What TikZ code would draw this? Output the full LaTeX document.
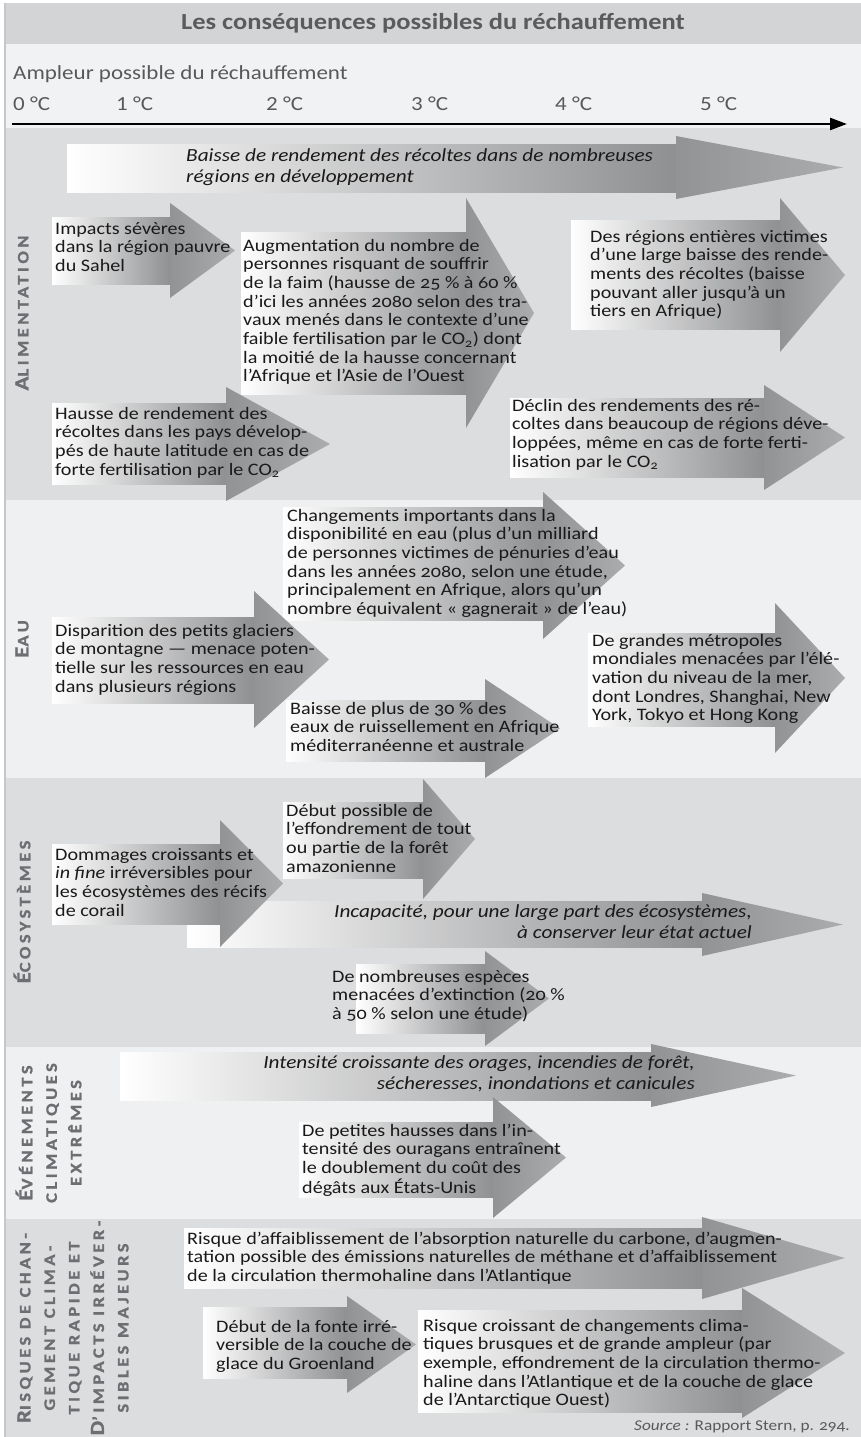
\documentclass[tikz,border=0pt]{standalone}
\usepackage{fontspec}
\setmainfont{Carlito}[Numbers=OldStyle,FakeStretch=1.15]
\newfontfamily\linfont{Carlito}[FakeStretch=1.15]
\newfontfamily\lblfont{Carlito}[LetterSpace=22,FakeStretch=1.15,FakeBold=1.2]
\usetikzlibrary{arrows.meta}
\definecolor{bandD}{HTML}{DCDDDF}
\definecolor{bandL}{HTML}{EFF0F2}
\definecolor{bandT}{HTML}{D3D4D6}
\definecolor{bandA}{HTML}{F1F2F4}
\definecolor{edgec}{HTML}{C6C7C9}
\definecolor{titc}{HTML}{5A5B5D}
\definecolor{axc}{HTML}{58595B}
\definecolor{lblc}{HTML}{6D6E71}
\definecolor{txtc}{HTML}{1A1A1A}
\definecolor{abody}{HTML}{8F9092}
\definecolor{ahA}{HTML}{929395}
\definecolor{ahB}{HTML}{ABACAE}
\newcommand\Ltab[1]{\begin{tabular}[t]{@{}l@{}}#1\end{tabular}}
\newcommand\Rtab[1]{\begin{tabular}[t]{@{}r@{}}#1\end{tabular}}
\newcommand\bigL[1]{{\fontsize{20}{24.5}\selectfont #1}}
% name, bodyLeft, bodyTop, bodyBottom, headBase, headTop, headBottom, tipX
\newcommand\garrow[8]{%
  \shade[left color=white,right color=abody] (#2,#3) rectangle (#5,#4);
  \shade[left color=ahA,right color=ahB] (#5,#6) -- (#8,{(#6+#7)/2}) -- (#5,#7) -- cycle;
  \coordinate (#1) at (#8,{(#6+#7)/2});}
\begin{document}
\begin{tikzpicture}[x=1pt,y=-1pt,
  txt/.style={anchor=base west,inner sep=0pt,text=txtc,font=\fontsize{17.5}{18.7}\selectfont},
  itx/.style={anchor=base west,inner sep=0pt,text=txtc,font=\fontsize{18.5}{21}\selectfont\itshape},
  itr/.style={itx,anchor=base east},
  lbl/.style={rotate=90,inner sep=0pt,align=center,text=lblc,font=\lblfont\bfseries\fontsize{16}{24.5}\selectfont},
  deg/.style={anchor=base west,inner sep=0pt,text=axc,font=\linfont\fontsize{20}{24}\selectfont}]
\useasboundingbox (0,0) rectangle (861,1437);
\fill[white] (0,0) rectangle (861,1437);
% bands
\fill[bandT] (4,3) rectangle (861,44);
\fill[bandA] (4,44) rectangle (861,128);
\fill[bandD] (4,128) rectangle (861,500);
\fill[bandL] (4,500) rectangle (861,778);
\fill[bandD] (4,778) rectangle (861,1047);
\fill[bandL] (4,1047) rectangle (861,1219);
\fill[bandD] (4,1219) rectangle (861,1437);
\draw[edgec,line width=1.5pt] (5,3) -- (5,1437);
% title and axis
\node[anchor=base,inner sep=0pt,text=titc,font=\fontsize{23}{26}\selectfont\bfseries] (title) at (433,30) {Les conséquences possibles du réchauffement};
\node[anchor=base west,inner sep=0pt,text=axc,font=\fontsize{20}{24}\selectfont] (ampleur) at (13,80) {Ampleur possible du réchauffement};
\node[deg] (d0) at (13,110) {0 °C};
\node[deg] (d1) at (116,110) {1 °C};
\node[deg] (d2) at (266,110) {2 °C};
\node[deg] (d3) at (411,110) {3 °C};
\node[deg] (d4) at (555,110) {4 °C};
\node[deg] (d5) at (700,110) {5 °C};
\coordinate (ax0) at (12,124);
\coordinate (ax1) at (847,124);
\draw[black,line width=2.5pt,-{Triangle[length=17pt,width=12pt]}] (ax0) -- (ax1);
% side labels
\node[lbl] (lalim) at (22,313) {\bigL{A}LIMENTATION};
\node[lbl] (leau) at (22,639) {\bigL{E}AU};
\node[lbl] (leco) at (22,912) {\bigL{É}COSYSTÈMES};
\node[lbl] (levt) at (48.5,1133) {\bigL{É}VÉNEMENTS\\CLIMATIQUES\\EXTRÊMES};
\node[lbl] (lrisk) at (73,1328) {\bigL{R}ISQUES DE CHAN-\\GEMENT CLIMA-\\TIQUE RAPIDE ET\\\bigL{D}’IMPACTS IRRÉVER-\\SIBLES MAJEURS};
% ---- Alimentation
\garrow{a1}{67}{144}{192}{676}{136}{199}{843}
\garrow{a2}{52}{217}{284}{170}{203}{298}{235}
\garrow{a3}{241}{232}{394}{466}{198}{428}{534}
\garrow{a4}{571}{220}{329}{780}{198}{352}{845}
\garrow{a5}{52}{403}{484}{226}{387}{501}{330}
\garrow{a6}{510}{398}{477}{764}{385}{490}{845}
\node[itx] (ta1) at (186,161) {\Ltab{Baisse de rendement des récoltes dans de nombreuses\\régions en développement}};
\node[txt] (ta2) at (55,234) {\Ltab{Impacts sévères\\dans la région pauvre\\du Sahel}};
\node[txt] (ta3) at (243,251) {\Ltab{Augmentation du nombre de\\personnes risquant de souffrir\\de la faim (hausse de 25~\% à 60~\%\\d’ici les années 2080 selon des tra-\\vaux menés dans le contexte d’une\\faible fertilisation par le CO\textsubscript{2}) dont\\la moitié de la hausse concernant\\l’Afrique et l’Asie de l’Ouest}};
\node[txt] (ta4) at (590,242) {\Ltab{Des régions entières victimes\\d’une large baisse des rende-\\ments des récoltes (baisse\\pouvant aller jusqu’à un\\tiers en Afrique)}};
\node[txt] (ta5) at (55,419) {\Ltab{Hausse de rendement des\\récoltes dans les pays dévelop-\\pés de haute latitude en cas de\\forte fertilisation par le CO\textsubscript{2}}};
\node[txt] (ta6) at (512,411) {\Ltab{Déclin des rendements des ré-\\coltes dans beaucoup de régions déve-\\loppées, même en cas de forte ferti-\\lisation par le CO\textsubscript{2}}};
% ---- Eau
\garrow{e1}{283}{507}{620}{543}{492}{639}{625}
\garrow{e2}{52}{617}{703}{254}{591}{728}{329}
\garrow{e3}{286}{700}{761}{485}{679}{778}{560}
\garrow{e4}{588}{633}{726}{775}{603}{753}{845}
\node[txt] (te1) at (287,521) {\Ltab{Changements importants dans la\\disponibilité en eau (plus d’un milliard\\de personnes victimes de pénuries d’eau\\dans les années 2080, selon une étude,\\principalement en Afrique, alors qu’un\\nombre équivalent «~gagnerait~» de l’eau)}};
\node[txt] (te2) at (55,636) {\Ltab{Disparition des petits glaciers\\de montagne — menace poten-\\tielle sur les ressources en eau\\dans plusieurs régions}};
\node[txt] (te3) at (290,714) {\Ltab{Baisse de plus de 30~\% des\\eaux de ruissellement en Afrique\\méditerranéenne et australe}};
\node[txt] (te4) at (592,646) {\Ltab{De grandes métropoles\\mondiales menacées par l’élé-\\vation du niveau de la mer,\\dont Londres, Shanghai, New\\York, Tokyo et Hong Kong}};
% ---- Ecosystemes
\garrow{c3}{187}{901}{947}{702}{893}{956}{843}
\garrow{c1}{52}{844}{924}{220}{820}{947}{283}
\garrow{c2}{283}{802}{878}{423}{779}{899}{475}
\garrow{c4}{356}{964}{1033}{485}{951}{1046}{549}
\node[txt] (tc1) at (55,860) {\Ltab{Dommages croissants et\\\textit{in fine} irréversibles pour\\les écosystèmes des récifs\\de corail}};
\node[txt] (tc2) at (286,816) {\Ltab{Début possible de\\l’effondrement de tout\\ou partie de la forêt\\amazonienne}};
\node[itr] (tc3) at (752,917) {\Rtab{Incapacité, pour une large part des écosystèmes,\\à conserver leur état actuel}};
\node[txt] (tc4) at (332,982) {\Ltab{De nombreuses espèces\\menacées d’extinction (20~\%\\à 50~\% selon une étude)}};
% ---- Evenements
\garrow{v1}{120}{1052}{1100}{651}{1044}{1107}{796}
\garrow{v2}{299}{1122}{1197}{493}{1097}{1218}{566}
\node[itr] (tv1) at (695,1068) {\Rtab{Intensité croissante des orages, incendies de forêt,\\sécheresses, inondations et canicules}};
\node[txt] (tv2) at (302,1136) {\Ltab{De petites hausses dans l’in-\\tensité des ouragans entraînent\\le doublement du coût des\\dégâts aux États-Unis}};
% ---- Risques
\garrow{r1}{184}{1228}{1288}{702}{1217}{1299}{845}
\garrow{r2}{203}{1307}{1378}{347}{1296}{1393}{416}
\garrow{r3}{418}{1310}{1412}{742}{1288}{1418}{845}
\node[txt] (tr1) at (187,1244) {\Ltab{Risque d’affaiblissement de l’absorption naturelle du carbone, d’augmen-\\tation possible des émissions naturelles de méthane et d’affaiblissement\\de la circulation thermohaline dans l’Atlantique}};
\node[txt] (tr2) at (216,1332) {\Ltab{Début de la fonte irré-\\versible de la couche de\\glace du Groenland}};
\node[txt] (tr3) at (423,1331) {\Ltab{Risque croissant de changements clima-\\tiques brusques et de grande ampleur (par\\exemple, effondrement de la circulation thermo-\\haline dans l’Atlantique et de la couche de glace\\de l’Antarctique Ouest)}};
\node[anchor=base east,inner sep=0pt,text=axc,font=\fontsize{15}{18}\selectfont] (src) at (850,1430) {\textit{Source :} Rapport Stern, p. 294.};
\end{tikzpicture}
\end{document}
